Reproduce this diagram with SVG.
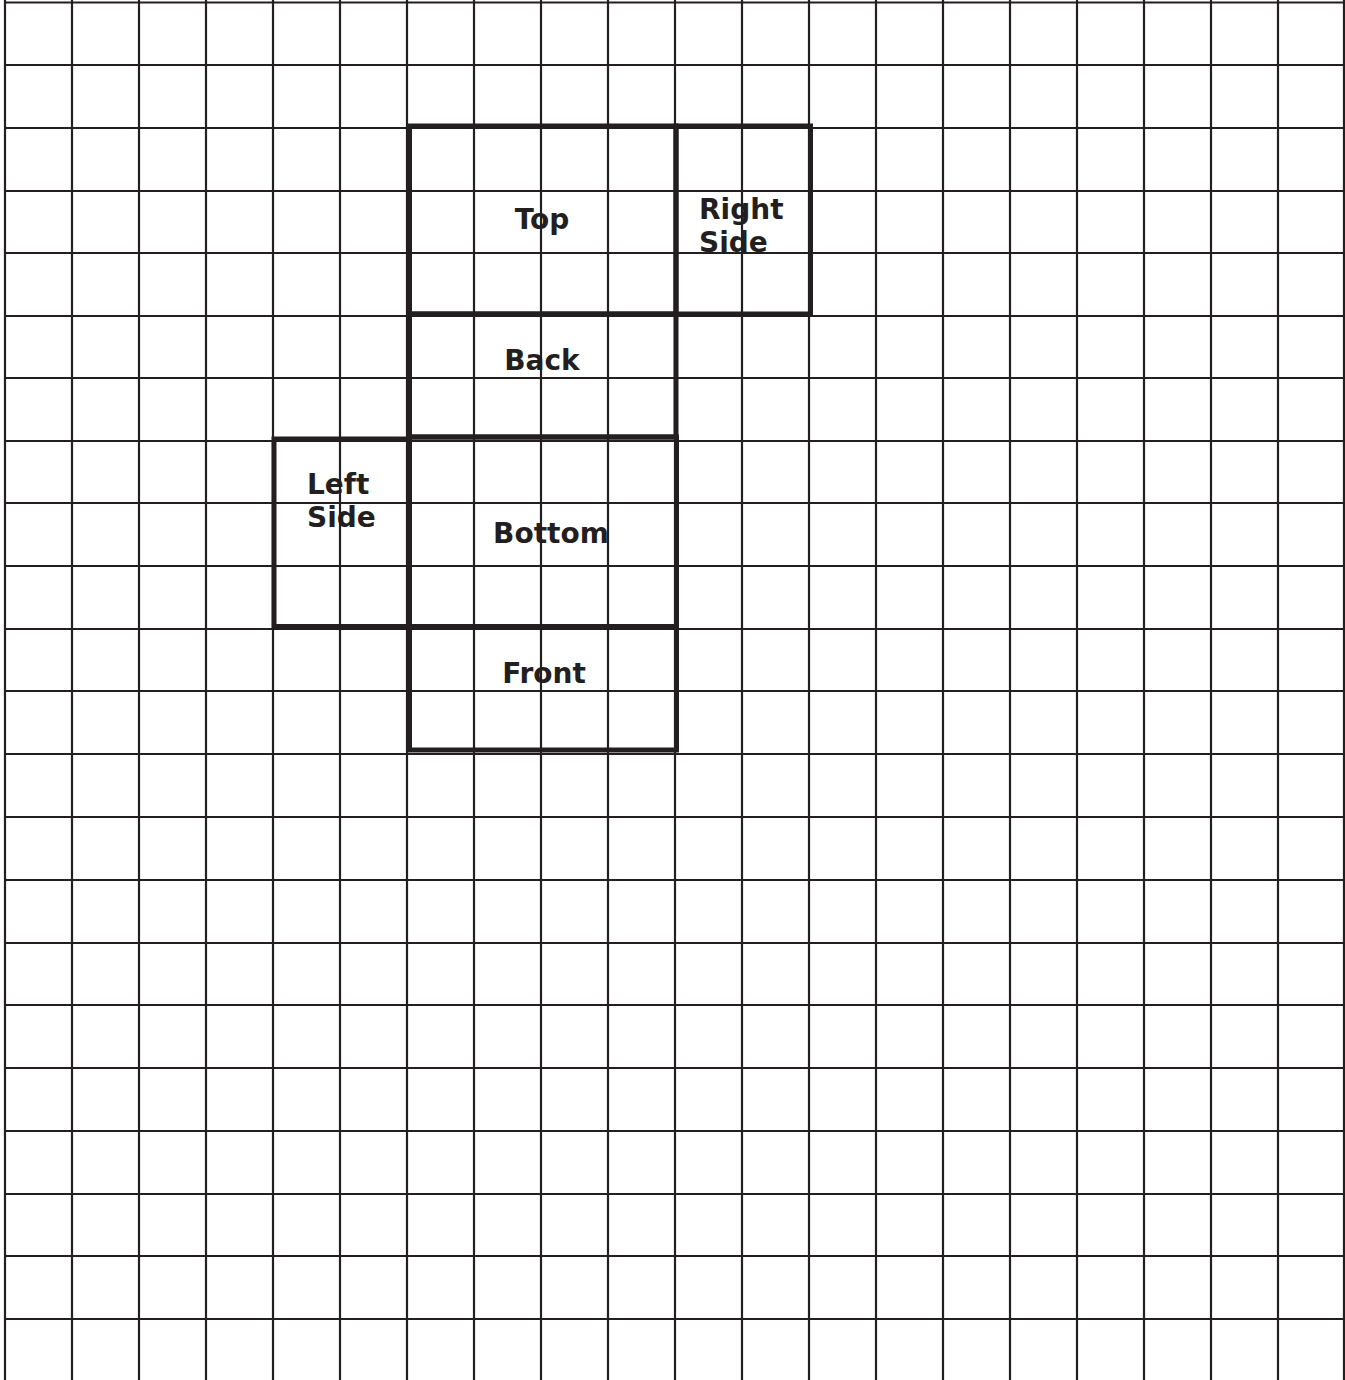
<svg xmlns="http://www.w3.org/2000/svg" width="1345" height="1380" viewBox="0 0 1345 1380">
<style>
.grid line{stroke:#231f20;stroke-width:2.2}
.face{fill:none;stroke:#231f20;stroke-width:5;stroke-linecap:square}
.lbl{font-family:"DejaVu Sans",Verdana,sans-serif;font-weight:bold;font-size:28px;fill:#231f20}
</style>
<rect width="1345" height="1380" fill="#fff"/>
<g id="grid" class="grid">
<line x1="5" y1="0" x2="5" y2="1380"/>
<line x1="72" y1="0" x2="72" y2="1380"/>
<line x1="139" y1="0" x2="139" y2="1380"/>
<line x1="206" y1="0" x2="206" y2="1380"/>
<line x1="273" y1="0" x2="273" y2="1380"/>
<line x1="340" y1="0" x2="340" y2="1380"/>
<line x1="407" y1="0" x2="407" y2="1380"/>
<line x1="474" y1="0" x2="474" y2="1380"/>
<line x1="541" y1="0" x2="541" y2="1380"/>
<line x1="608" y1="0" x2="608" y2="1380"/>
<line x1="675" y1="0" x2="675" y2="1380"/>
<line x1="742" y1="0" x2="742" y2="1380"/>
<line x1="809" y1="0" x2="809" y2="1380"/>
<line x1="876" y1="0" x2="876" y2="1380"/>
<line x1="943" y1="0" x2="943" y2="1380"/>
<line x1="1010" y1="0" x2="1010" y2="1380"/>
<line x1="1077" y1="0" x2="1077" y2="1380"/>
<line x1="1144" y1="0" x2="1144" y2="1380"/>
<line x1="1211" y1="0" x2="1211" y2="1380"/>
<line x1="1278" y1="0" x2="1278" y2="1380"/>
<line x1="1344" y1="0" x2="1344" y2="1380"/>
<line x1="5" y1="2.5" x2="1345" y2="2.5"/>
<line x1="5" y1="65" x2="1345" y2="65"/>
<line x1="5" y1="128" x2="1345" y2="128"/>
<line x1="5" y1="191" x2="1345" y2="191"/>
<line x1="5" y1="253" x2="1345" y2="253"/>
<line x1="5" y1="316" x2="1345" y2="316"/>
<line x1="5" y1="378" x2="1345" y2="378"/>
<line x1="5" y1="441" x2="1345" y2="441"/>
<line x1="5" y1="503" x2="1345" y2="503"/>
<line x1="5" y1="566" x2="1345" y2="566"/>
<line x1="5" y1="629" x2="1345" y2="629"/>
<line x1="5" y1="691" x2="1345" y2="691"/>
<line x1="5" y1="754" x2="1345" y2="754"/>
<line x1="5" y1="817" x2="1345" y2="817"/>
<line x1="5" y1="880" x2="1345" y2="880"/>
<line x1="5" y1="943" x2="1345" y2="943"/>
<line x1="5" y1="1005" x2="1345" y2="1005"/>
<line x1="5" y1="1068" x2="1345" y2="1068"/>
<line x1="5" y1="1131" x2="1345" y2="1131"/>
<line x1="5" y1="1194" x2="1345" y2="1194"/>
<line x1="5" y1="1256" x2="1345" y2="1256"/>
<line x1="5" y1="1319" x2="1345" y2="1319"/>
</g>
<g id="top">
<rect class="face" x="409.5" y="126" width="266.5" height="188"/>
<text class="lbl" x="542" y="229" text-anchor="middle">Top</text>
</g>
<g id="right-side">
<rect class="face" x="676" y="126" width="134.5" height="188"/>
<text class="lbl" x="699" y="219">Right</text>
<text class="lbl" x="699" y="252">Side</text>
</g>
<g id="back">
<rect class="face" x="409.5" y="314" width="266.5" height="123"/>
<text class="lbl" x="542" y="370" text-anchor="middle">Back</text>
</g>
<g id="left-side">
<rect class="face" x="274" y="439" width="135.5" height="187.5"/>
<text class="lbl" x="307" y="494">Left</text>
<text class="lbl" x="307" y="527">Side</text>
</g>
<g id="bottom">
<rect class="face" x="409.5" y="437" width="267" height="189.5"/>
<text class="lbl" x="551" y="543" text-anchor="middle">Bottom</text>
</g>
<g id="front">
<rect class="face" x="409.5" y="626.5" width="267" height="123.5"/>
<text class="lbl" x="544" y="683" text-anchor="middle">Front</text>
</g>
<g id="connectors"></g>
</svg>
